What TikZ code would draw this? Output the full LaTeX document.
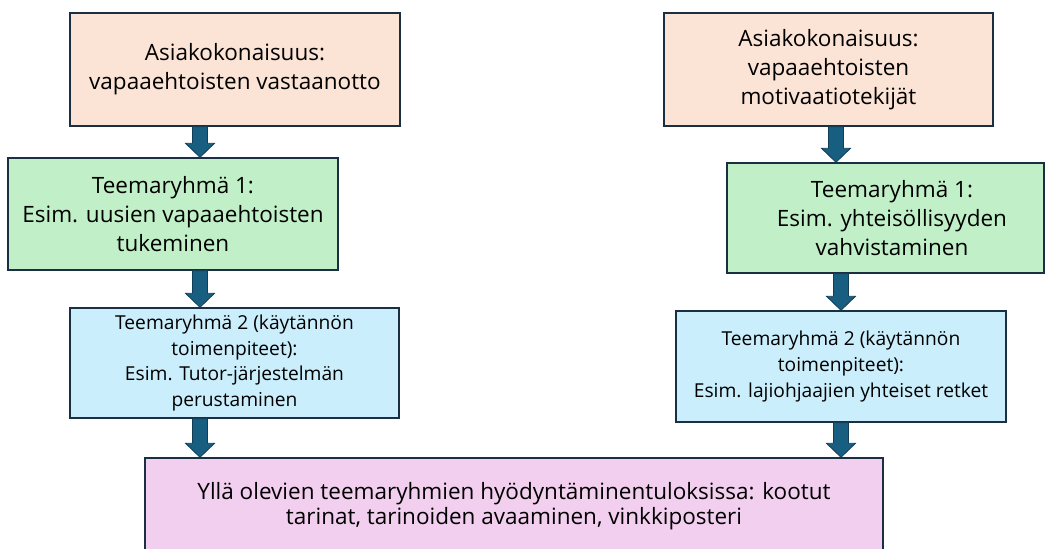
\documentclass[tikz,border=0pt]{standalone}
\usepackage{fontspec}
\setmainfont{Open Sans}
\usetikzlibrary{calc}
\definecolor{peach}{HTML}{FBE3D6}
\definecolor{mint}{HTML}{C1F0C8}
\definecolor{sky}{HTML}{CAEEFB}
\definecolor{orchid}{HTML}{F2CEEF}
\definecolor{edge}{HTML}{1A3042}
\definecolor{arrowfill}{HTML}{175E80}
\definecolor{arrowedge}{HTML}{113E56}
\newcommand\blockarr[3]{%
  \path[arrowshape] let \p1=(#1.south), \p2=(#2.north) in
    ({#3pt-7.5pt},\y1) -- ({#3pt-7.5pt},{\y2+14pt}) -- ({#3pt-14.5pt},{\y2+14pt}) --
    ({#3pt},\y2) -- ({#3pt+14.5pt},{\y2+14pt}) -- ({#3pt+7.5pt},{\y2+14pt}) --
    ({#3pt+7.5pt},\y1) -- cycle;}
\begin{document}
\begin{tikzpicture}[x=1pt,y=-1pt,
  box/.style={draw=edge, line width=1.4pt, inner sep=0pt, align=center, text=black},
  bigtext/.style={font=\fontsize{22.5pt}{28.8pt}\selectfont},
  smalltext/.style={font=\fontsize{19.2pt}{25.7pt}\selectfont},
  pinktext/.style={font=\fontsize{22.5pt}{25.5pt}\selectfont},
  arrowshape/.style={fill=arrowfill, draw=arrowedge, line width=0.8pt, line join=miter}]
\useasboundingbox (0,0) rectangle (1045,549);
\node[box, bigtext, fill=peach, minimum width=330pt, minimum height=113pt] (a1) at (235,69.5)
  {Asiakokonaisuus:\\vapaaehtoisten vastaanotto};
\node[box, bigtext, fill=peach, minimum width=329pt, minimum height=113pt] (a2) at (828.5,69.5)
  {Asiakokonaisuus:\\vapaaehtoisten\\motivaatiotekijät};
\node[box, bigtext, fill=mint, minimum width=330pt, minimum height=112pt] (g1) at (173,214)
  {Teemaryhmä 1:\\Esim. uusien vapaaehtoisten\\tukeminen};
\node[box, bigtext, fill=mint, minimum width=317pt, minimum height=110pt] (g2) at (885.5,218)
  {\hspace*{13pt}Teemaryhmä 1:\\\hspace*{13pt}Esim. yhteisöllisyyden\\\hspace*{13pt}vahvistaminen};
\node[box, smalltext, fill=sky, minimum width=329pt, minimum height=110pt] (b1) at (234.5,363)
  {Teemaryhmä 2 (käytännön\\toimenpiteet):\\Esim. Tutor-järjestelmän\\perustaminen};
\node[box, smalltext, fill=sky, minimum width=330pt, minimum height=111pt] (b2) at (841,366.5)
  {Teemaryhmä 2 (käytännön\\toimenpiteet):\\Esim. lajiohjaajien yhteiset retket};
\node[box, pinktext, fill=orchid, minimum width=738pt, minimum height=96pt] (p) at (514,506)
  {Yllä olevien teemaryhmien hyödyntäminentuloksissa: kootut\\tarinat, tarinoiden avaaminen, vinkkiposteri};
\blockarr{a1}{g1}{200}
\blockarr{g1}{b1}{200}
\blockarr{b1}{p}{200}
\blockarr{a2}{g2}{836}
\blockarr{g2}{b2}{841}
\blockarr{b2}{p}{841}
\end{tikzpicture}
\end{document}
